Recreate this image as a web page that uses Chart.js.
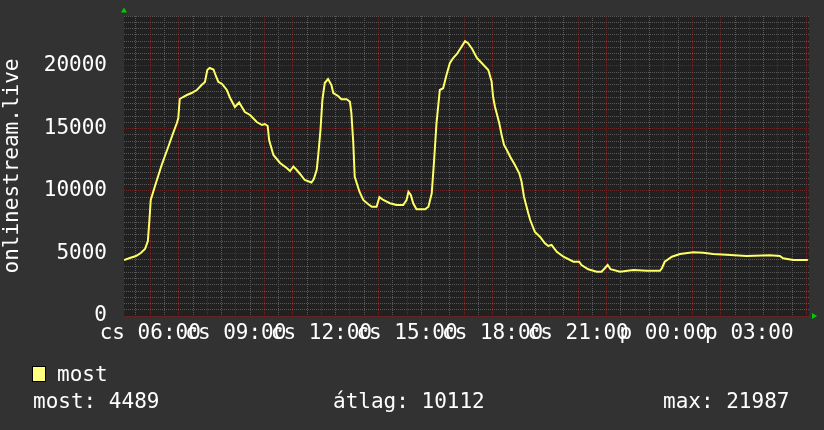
<!DOCTYPE html>
<html>
<head>
<meta charset="utf-8">
<script src="https://cdn.jsdelivr.net/npm/chart.js@4.4.1/dist/chart.umd.min.js"></script>
<style>
  html, body { margin: 0; padding: 0; background: #323232; }
  #wrap { width: 824px; height: 430px; }
</style>
</head>
<body>
<div id="wrap"><canvas id="c" width="824" height="430"></canvas></div>
<script>
// ---- data ----
const seriesName = 'most';
const axisTitle = 'onlinestream.live';
const times = [
  '05:05','05:17','05:30','05:40','05:49','05:55','05:59','06:01','06:10','06:24',
  '06:38','06:48','06:56','06:59','07:02','07:09','07:17','07:27','07:38','07:48',
  '07:55','08:00','08:05','08:13','08:18','08:23','08:31','08:41','08:48','08:58',
  '09:07','09:19','09:30','09:44','09:55','10:01','10:07','10:10','10:19','10:33',
  '10:47','10:54','11:01','11:08','11:15','11:25','11:39','11:44','11:50','11:53',
  '11:58','12:02','12:07','12:14','12:21','12:25','12:35','12:42','12:53','13:00',
  '13:03','13:07','13:10','13:20','13:28','13:38','13:46','13:56','14:02','14:10',
  '14:24','14:38','14:52','14:59','15:03','15:08','15:13','15:20','15:38','15:45',
  '15:52','15:57','16:02','16:09','16:16','16:23','16:30','16:37','16:45','16:53',
  '17:02','17:08','17:17','17:27','17:37','17:51','17:58','18:01','18:05','18:14',
  '18:19','18:24','18:30','18:37','18:47','18:56','19:01','19:06','19:15','19:19',
  '19:29','19:40','19:50','19:57','20:04','20:15','20:29','20:50','21:02','21:07',
  '21:21','21:39','21:49','21:56','22:02','22:08','22:28','22:56','23:24','23:52',
  '23:56','00:02','00:17','00:34','01:02','01:23','01:44','02:12','02:54','03:43',
  '04:04','04:11','04:32','05:03'
];
const values = [
  4480,4640,4800,5040,5360,6000,8080,9280,10400,12080,
  13540,14620,15440,15840,17360,17520,17680,17840,18080,18480,
  18720,19680,19840,19720,19200,18740,18560,18080,17440,16720,
  17080,16320,16080,15520,15280,15360,15200,14080,12880,12240,
  11840,11600,11960,11680,11360,10880,10680,10960,11680,12740,
  14880,17280,18640,18960,18480,17840,17600,17340,17340,17140,
  16240,13840,11140,9940,9280,8960,8740,8740,9500,9280,
  9020,8880,8880,9280,9940,9680,9020,8540,8540,8740,
  9820,12480,15420,18080,18220,19280,20220,20640,20960,21440,
  21987,21840,21360,20640,20240,19680,18740,17540,16740,15420,
  14480,13680,13280,12740,12080,11420,10740,9540,8220,7680,
  6720,6320,5820,5600,5680,5140,4740,4340,4340,4080,
  3740,3540,3540,3820,4080,3740,3540,3680,3620,3620,
  3820,4340,4740,4960,5100,5060,4960,4900,4800,4860,
  4800,4620,4480,4489
];
const xTickHours = [6, 9, 12, 15, 18, 21, 24, 27];
const xTickLabels = ['cs 06:00','cs 09:00','cs 12:00','cs 15:00','cs 18:00','cs 21:00','p 00:00','p 03:00'];
const statLabels = ['most: 4489', 'átlag: 10112', 'max: 21987'];

// convert times to hours (continuing past midnight)
let dayOff = 0, prevRaw = -1;
const hours = times.map(t => {
  const [H, M] = t.split(':').map(Number);
  const raw = H + M / 60;
  if (raw < prevRaw) dayOff += 24;
  prevRaw = raw;
  return raw + dayOff;
});
const points = values.map((v, i) => ({ x: hours[i], y: v }));

const FONT = "'DejaVu Sans Mono', monospace";
const MINOR = 'rgb(88,88,88)';
const MAJOR = 'rgb(102,38,38)';

const decor = {
  id: 'decor',
  beforeDraw(chart) {
    const { ctx, chartArea: a } = chart;
    ctx.save();
    ctx.fillStyle = '#323232';
    ctx.fillRect(0, 0, chart.width, chart.height);
    ctx.fillStyle = '#212121';
    ctx.fillRect(a.left, a.top, a.right - a.left, a.bottom - a.top);
    ctx.restore();
  },
  afterDraw(chart) {
    const { ctx, chartArea: a } = chart;
    ctx.save();
    // arrows
    ctx.fillStyle = '#00cc00';
    ctx.beginPath();
    ctx.moveTo(a.left - 3, a.top - 3.5);
    ctx.lineTo(a.left + 3, a.top - 3.5);
    ctx.lineTo(a.left, a.top - 8.5);
    ctx.closePath(); ctx.fill();
    ctx.beginPath();
    ctx.moveTo(a.right + 3, a.bottom - 3);
    ctx.lineTo(a.right + 3, a.bottom + 3);
    ctx.lineTo(a.right + 8, a.bottom);
    ctx.closePath(); ctx.fill();
    // legend
    ctx.fillStyle = '#ffff80';
    ctx.fillRect(32, 366, 14, 16);
    ctx.strokeStyle = '#000';
    ctx.lineWidth = 1;
    ctx.strokeRect(32.5, 366.5, 13, 15);
    ctx.fillStyle = '#ffffff';
    ctx.font = '21px ' + FONT;
    ctx.textBaseline = 'alphabetic';
    ctx.textAlign = 'left';
    ctx.fillText(seriesName, 57, 381);
    ctx.fillText(statLabels[0], 33, 408);
    ctx.fillText(statLabels[1], 333, 408);
    ctx.fillText(statLabels[2], 663, 408);
    ctx.restore();
  }
};

new Chart(document.getElementById('c'), {
  type: 'line',
  data: {
    datasets: [{
      label: seriesName,
      data: points,
      borderColor: '#ffff66',
      borderWidth: 2,
      pointRadius: 0,
      tension: 0,
      fill: false
    }]
  },
  options: {
    responsive: false,
    animation: false,
    devicePixelRatio: 1,
    layout: { padding: { left: 0, top: 16, right: 15, bottom: 84 } },
    plugins: { legend: { display: false }, tooltip: { enabled: false } },
    scales: {
      x: {
        type: 'linear',
        min: 5.08,
        max: 29.09,
        afterFit(scale) { scale.height = 30; scale.paddingLeft = 0; scale.paddingRight = 0; },
        afterBuildTicks(scale) {
          const t = [];
          for (let h = Math.ceil(scale.min * 2) / 2; h <= scale.max; h += 0.5) t.push({ value: h });
          scale.ticks = t;
        },
        ticks: {
          autoSkip: false,
          maxRotation: 0,
          minRotation: 0,
          padding: 5,
          color: '#ffffff',
          font: { family: FONT, size: 21 },
          callback(v) {
            const i = xTickHours.indexOf(v);
            return i >= 0 ? xTickLabels[i] : '';
          }
        },
        grid: {
          drawTicks: false,
          color: ctx => (ctx.tick && Number.isInteger(ctx.tick.value)) ? MAJOR : MINOR,
          lineWidth: 1,
          borderDash: [1, 1]
        },
        border: { display: false, dash: [1, 1] }
      },
      y: {
        min: 0,
        max: 24000,
        afterFit(scale) { scale.width = 124; scale.paddingTop = 0; scale.paddingBottom = 0; },
        ticks: {
          stepSize: 500,
          maxTicksLimit: 200,
          autoSkip: false,
          padding: 17,
          color: '#ffffff',
          font: { family: FONT, size: 21 },
          callback(v) { return v % 5000 === 0 ? String(v) : ''; }
        },
        grid: {
          drawTicks: false,
          color: ctx => (ctx.tick && ctx.tick.value % 5000 === 0) ? MAJOR : MINOR,
          lineWidth: 1,
          borderDash: [1, 1]
        },
        border: { display: false, dash: [1, 1] },
        title: {
          display: true,
          text: axisTitle,
          color: '#ffffff',
          font: { family: FONT, size: 21 },
          padding: { top: 0, bottom: 0 }
        }
      }
    }
  },
  plugins: [decor]
});
</script>
</body>
</html>
